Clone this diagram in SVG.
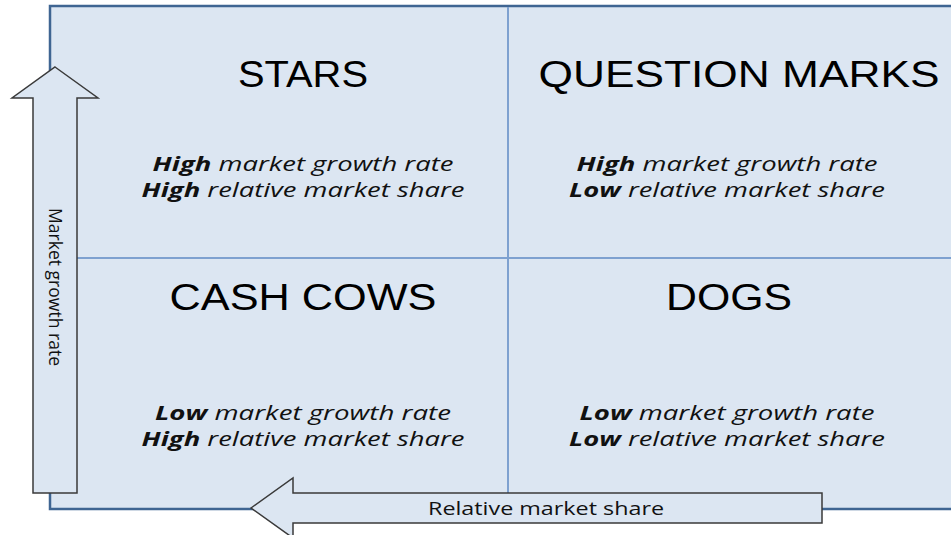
<svg xmlns="http://www.w3.org/2000/svg" width="951" height="535" viewBox="0 0 951 535">
<style>
.title{font-family:"Liberation Sans","Open Sans",sans-serif;font-size:36px;fill:#000;text-anchor:middle}
.desc{font-family:"Open Sans","Liberation Sans",sans-serif;font-size:20px;font-style:italic;fill:#111;text-anchor:middle}
.desc .b{font-weight:bold}
.axis{font-family:"Open Sans","Liberation Sans",sans-serif;font-size:18px;fill:#111;text-anchor:middle}
.arrow{fill:#dce6f2;stroke:#3a3a3a;stroke-width:1.5}
</style>
<rect width="951" height="535" fill="#ffffff"/>
<g id="matrix">
<rect x="50" y="6" width="910" height="503" fill="#dce6f2" stroke="#3f6592" stroke-width="2.5"/>
<line x1="508" y1="7" x2="508" y2="508" stroke="#7ea1d0" stroke-width="2"/>
<line x1="51" y1="258" x2="951" y2="258" stroke="#7ea1d0" stroke-width="2"/>
</g>
<g id="stars">
<text class="title" x="303" y="87" textLength="130" lengthAdjust="spacingAndGlyphs">STARS</text>
<text class="desc" x="303" y="171" textLength="301" lengthAdjust="spacingAndGlyphs"><tspan class="b">High</tspan> market growth rate</text>
<text class="desc" x="303" y="197" textLength="323" lengthAdjust="spacingAndGlyphs"><tspan class="b">High</tspan> relative market share</text>
</g>
<g id="question-marks">
<text class="title" x="739" y="87" textLength="401" lengthAdjust="spacingAndGlyphs">QUESTION MARKS</text>
<text class="desc" x="727" y="171" textLength="301" lengthAdjust="spacingAndGlyphs"><tspan class="b">High</tspan> market growth rate</text>
<text class="desc" x="727" y="197" textLength="316" lengthAdjust="spacingAndGlyphs"><tspan class="b">Low</tspan> relative market share</text>
</g>
<g id="cash-cows">
<text class="title" x="303" y="310" textLength="267" lengthAdjust="spacingAndGlyphs">CASH COWS</text>
<text class="desc" x="303" y="420" textLength="296" lengthAdjust="spacingAndGlyphs"><tspan class="b">Low</tspan> market growth rate</text>
<text class="desc" x="303" y="446" textLength="323" lengthAdjust="spacingAndGlyphs"><tspan class="b">High</tspan> relative market share</text>
</g>
<g id="dogs">
<text class="title" x="729" y="310" textLength="126" lengthAdjust="spacingAndGlyphs">DOGS</text>
<text class="desc" x="727" y="420" textLength="295" lengthAdjust="spacingAndGlyphs"><tspan class="b">Low</tspan> market growth rate</text>
<text class="desc" x="727" y="446" textLength="316" lengthAdjust="spacingAndGlyphs"><tspan class="b">Low</tspan> relative market share</text>
</g>
<g id="connectors">
<g id="growth-axis">
<path class="arrow" d="M55,67 L98,98 L77,98 L77,493 L33,493 L33,98 L12,98 Z"/>
<text class="axis" transform="translate(49,287) rotate(90)" textLength="158" lengthAdjust="spacingAndGlyphs">Market growth rate</text>
</g>
<g id="share-axis">
<path class="arrow" d="M251,508 L293,478 L293,493 L822,493 L822,523 L293,523 L293,538 Z"/>
<text class="axis" x="546" y="515" textLength="236" lengthAdjust="spacingAndGlyphs">Relative market share</text>
</g>
</g>
</svg>
